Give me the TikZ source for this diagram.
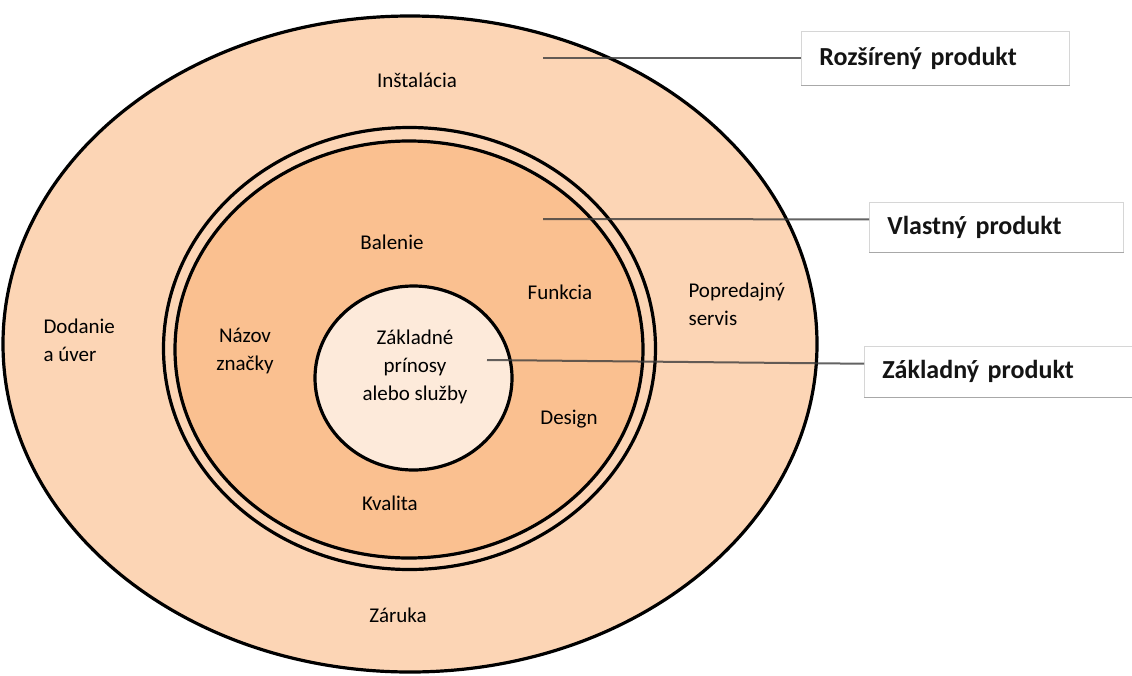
\documentclass[tikz,border=0pt]{standalone}
\usepackage{fontspec}
\setmainfont{Carlito}
\usetikzlibrary{shapes.geometric,calc}

\definecolor{outerfill}{HTML}{FCD5B5}
\definecolor{middlefill}{HTML}{FAC090}
\definecolor{corefill}{HTML}{FDEADA}
\definecolor{pointerline}{HTML}{3C3C3C}
\definecolor{boxline}{HTML}{D6D6D6}
\definecolor{boxshadow}{HTML}{A8A8A8}

\begin{document}
\begin{tikzpicture}[
		x=1pt, y=-1pt,
		shell/.style={ellipse, draw=black, line width=3.2pt, inner sep=0pt},
		feature/.style={font=\fontsize{21}{28}\selectfont, align=center, text=black},
		tag/.style={rectangle, draw=boxline, line width=0.8pt, fill=white, anchor=west,
			inner xsep=18pt, inner ysep=0pt, align=left, text=black!92,
			font=\fontsize{26}{30}\selectfont\bfseries},
		pointer/.style={draw=pointerline, line width=2pt, opacity=0.8},
		shade line/.style={draw=boxshadow, line width=1.6pt}
	]
	\useasboundingbox (0,0) rectangle (1132,675);

	% the three levels of the product
	\node[shell, fill=outerfill, minimum width=814, minimum height=656] (augmented) at (410,344) {};
	\node[shell, fill=outerfill, minimum width=492, minimum height=442] (ring) at (409.5,348.5) {};
	\node[shell, fill=middlefill, minimum width=468, minimum height=417] (actual) at (409,349.5) {};
	\node[shell, fill=corefill, minimum width=197, minimum height=184] (core) at (413.5,378) {};

	% features
	\node[feature] (instalacia) at (417,80) {Inštalácia};
	\node[feature, align=left, anchor=west] (dodanie) at (40,340) {Dodanie\\a úver};
	\node[feature, align=left, anchor=west] (servis) at (685,304) {Popredajný\\servis};
	\node[feature] (zaruka) at (398,615) {Záruka};
	\node[feature] (balenie) at (392,242) {Balenie};
	\node[feature] (funkcia) at (560,292) {Funkcia};
	\node[feature] (znacka) at (245,351) {Názov\\značky};
	\node[feature] (design) at (569,419) {Design};
	\node[feature] (kvalita) at (390,503) {Kvalita};
	\node[feature] (prinosy) at (415,367) {Základné\\prínosy\\alebo služby};

	% captions
	\node[tag, minimum height=54, text width=232] (rozsireny) at (801,58) {Rozšírený produkt};
	\node[tag, minimum height=50, text width=218] (vlastny) at (869,227) {Vlastný produkt};
	\node[tag, minimum height=51, text width=240] (zakladny) at (864,371.5) {Základný produkt};
	\draw[shade line] (rozsireny.south west) -- (rozsireny.south east);
	\draw[shade line] (vlastny.south west) -- (vlastny.south east);
	\draw[shade line] (zakladny.south west) -- (zakladny.south east);

	% pointers
	\coordinate (from augmented) at (543,58);
	\coordinate (from actual) at (543,219);
	\coordinate (from core) at (487,360);
	\draw[pointer] (from augmented) -- (rozsireny.west);
	\draw[pointer] (from actual) -- ($(vlastny.north west)!0.35!(vlastny.south west)$);
	\draw[pointer] (from core) -- ($(zakladny.north west)!0.35!(zakladny.south west)$);
\end{tikzpicture}
\end{document}
